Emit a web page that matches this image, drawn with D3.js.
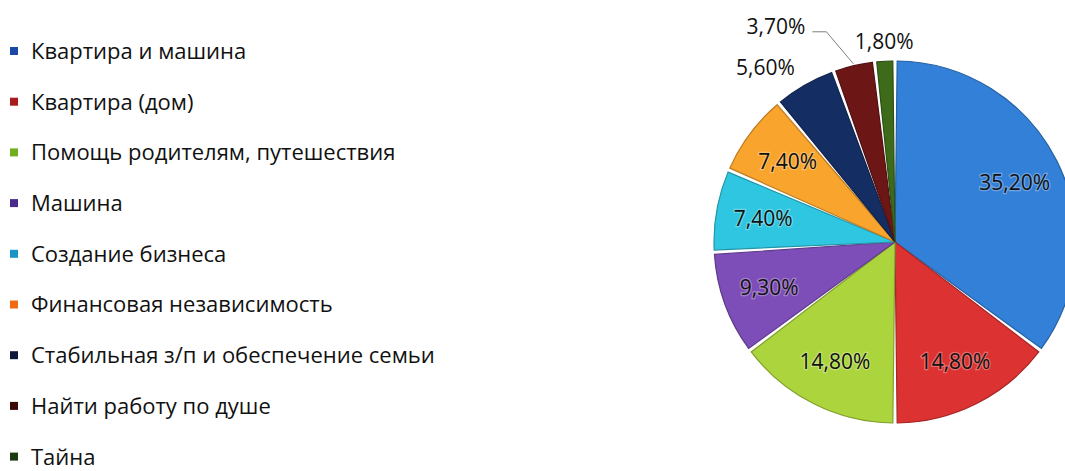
<!DOCTYPE html>
<html>
<head>
<meta charset="utf-8">
<script src="https://cdn.jsdelivr.net/npm/d3@7"></script>
<style>
  html, body { margin: 0; padding: 0; background: #fff; overflow: hidden; }
  svg { display: block; font-family: "Open Sans", "Noto Sans", sans-serif; }
</style>
</head>
<body>
<div id="chart"></div>
<script>
'use strict';

// data
const categories = [
    'Квартира и машина',
    'Квартира (дом)',
    'Помощь родителям, путешествия',
    'Машина',
    'Создание бизнеса',
    'Финансовая независимость',
    'Стабильная з/п и обеспечение семьи',
    'Найти работу по душе',
    'Тайна'
];
const values = [35.2, 14.8, 14.8, 9.3, 7.4, 7.4, 5.6, 3.7, 1.8];
const valueLabels = ['35,20%', '14,80%', '14,80%', '9,30%', '7,40%', '7,40%', '5,60%', '3,70%', '1,80%'];
const sliceColors = ['#3380d8', '#dc3232', '#acd43c', '#7e4eb8', '#2ec6e0', '#f9a42c', '#142e64', '#6c1616', '#3d6b1a'];
const legendColors = ['#1c48a8', '#a81c1c', '#70b020', '#4c2a8c', '#1a94c4', '#f06a14', '#0c1838', '#3c0808', '#1c3a10'];

const width = 1065, height = 471;
const cx = 895, cy = 242, radius = 181;

const svg = d3.select('#chart')
    .append('svg')
    .attr('width', width)
    .attr('height', height);

// legend
const legend = svg.append('g').attr('class', 'legend');
const rowY = d3.scaleLinear().domain([0, 1]).range([51, 101.7]);

const rows = legend.selectAll('g')
    .data(categories)
    .join('g')
    .attr('transform', (d, i) => `translate(10,${rowY(i)})`);

rows.append('rect')
    .attr('x', 0)
    .attr('y', -4)
    .attr('width', 8)
    .attr('height', 8)
    .attr('fill', (d, i) => legendColors[i]);

rows.append('text')
    .attr('x', 21)
    .attr('y', 0)
    .attr('dy', '0.36em')
    .attr('font-size', 22)
    .attr('fill', '#111')
    .text(d => d);

// pie
const pie = d3.pie().sort(null).value(d => d);
const arcs = pie(values);

const arc = d3.arc()
    .innerRadius(0)
    .outerRadius(radius)
    .padAngle(0.024);

const chart = svg.append('g')
    .attr('transform', `translate(${cx},${cy})`);

chart.selectAll('path.slice')
    .data(arcs)
    .join('path')
    .attr('class', 'slice')
    .attr('d', arc)
    .attr('fill', (d, i) => sliceColors[i])
    .attr('stroke', (d, i) => d3.color(sliceColors[i]).darker(0.8))
    .attr('stroke-width', 1.2);

// labels: big slices inside, small ones outside
const inner = d3.arc().innerRadius(radius * 0.74).outerRadius(radius * 0.74);
const midAngle = d => (d.startAngle + d.endAngle) / 2;

const labels = chart.append('g');
let prevBox = null;

arcs.slice().reverse().forEach(d => {
    const i = d.index;
    const a = midAngle(d);
    const label = labels.append('text')
        .attr('font-size', 21)
        .attr('fill', '#111')
        .attr('stroke', 'rgba(255,255,255,0.3)')
        .attr('stroke-width', 2.5)
        .attr('paint-order', 'stroke')
        .text(valueLabels[i]);

    if (values[i] >= 7) {
        const [x, y] = inner.centroid(d);
        label.attr('x', x).attr('y', y)
            .attr('text-anchor', 'middle')
            .attr('dy', '0.36em');
        return;
    }

    const ro = radius + 12;
    const x = Math.sin(a) * ro;
    const y = -Math.cos(a) * ro;
    const nearTop = Math.abs(Math.sin(a)) < 0.15;
    label.attr('x', nearTop ? x : x - 4).attr('y', y)
        .attr('text-anchor', nearTop ? 'middle' : 'end');
    let box = label.node().getBBox();

    const hits = prevBox &&
        box.x + box.width + 10 > prevBox.x &&
        box.y < prevBox.y + prevBox.height &&
        box.y + box.height > prevBox.y;

    if (hits) {
        // collides with neighbour: move it out and draw a leader line
        const ex = Math.sin(a) * (radius + 2);
        const ey = -Math.cos(a) * (radius + 2);
        const lx = ex - 48, ly = ey - 30;
        label.attr('x', lx).attr('y', ly).attr('text-anchor', 'end');
        box = label.node().getBBox();
        const my = ey - 32;
        chart.append('polyline')
            .attr('points', [[ex, ey], [ex - 27, my], [lx + 7, my]].map(p => p.join(',')).join(' '))
            .attr('fill', 'none')
            .attr('stroke', '#7f7f7f')
            .attr('stroke-width', 1);
    }
    prevBox = box;
});
</script>
</body>
</html>
